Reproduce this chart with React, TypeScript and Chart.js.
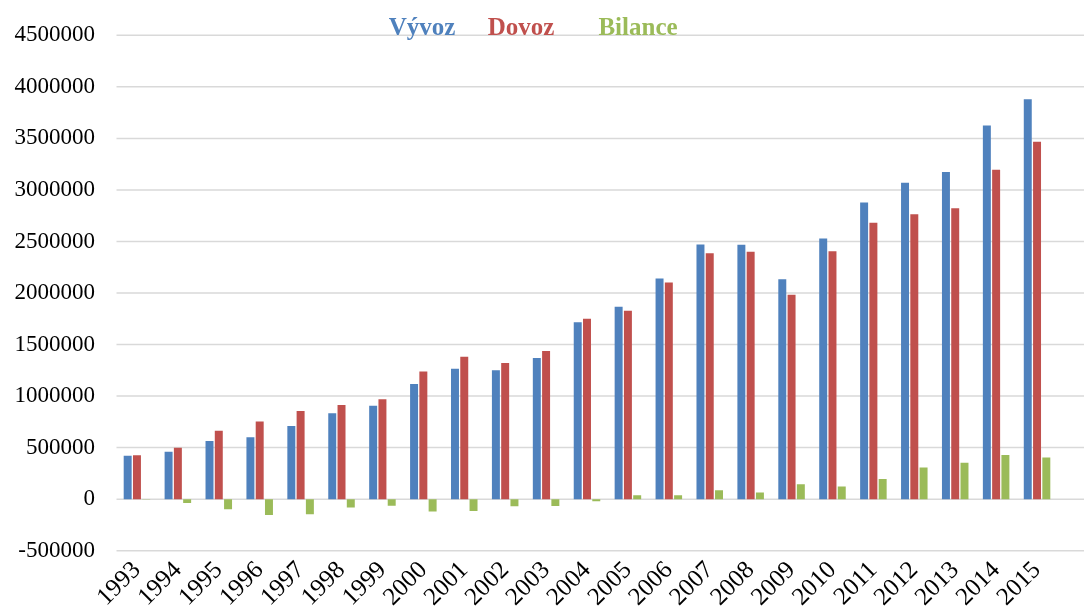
import React, { useEffect, useRef } from 'react';
import { Chart, registerables } from 'chart.js';
Chart.register(...registerables);

const years = ['1993','1994','1995','1996','1997','1998','1999','2000','2001','2002','2003','2004','2005','2006','2007','2008','2009','2010','2011','2012','2013','2014','2015'];
const vyvoz = [421000, 460000, 565000, 600000, 709000, 833000, 906000, 1117000, 1265000, 1251000, 1370000, 1717000, 1866000, 2140000, 2471000, 2468000, 2133000, 2529000, 2879000, 3070000, 3173000, 3626000, 3880000];
const dovoz = [425000, 498000, 664000, 753000, 855000, 913000, 970000, 1239000, 1382000, 1322000, 1437000, 1749000, 1829000, 2101000, 2385000, 2401000, 1983000, 2405000, 2682000, 2764000, 2821000, 3195000, 3468000];
const bilance = [-4000, -38000, -99000, -153000, -146000, -80000, -64000, -119000, -116000, -68000, -66000, -20000, 38000, 39000, 86000, 65000, 145000, 124000, 196000, 308000, 353000, 428000, 405000];
const seriesNames = ['Vývoz', 'Dovoz', 'Bilance'];
const seriesColors = ['#4F81BD', '#C0504D', '#9BBB59'];
const yMin = -500000;
const yMax = 4500000;
const yStep = 500000;

const FONT = "'Liberation Serif', 'Times New Roman', serif";

const gridPlugin = {
  id: 'extGrid',
  beforeDatasetsDraw(chart: any) {
    const { ctx, chartArea, scales } = chart;
    const y = scales.y;
    ctx.save();
    ctx.strokeStyle = '#d9d9d9';
    ctx.lineWidth = 1.5;
    y.ticks.forEach((t: any) => {
      const py = y.getPixelForValue(t.value);
      ctx.beginPath();
      ctx.moveTo(chartArea.left, py);
      ctx.lineTo(chart.width, py);
      ctx.stroke();
    });
    ctx.restore();
  },
};

const legendPlugin = {
  id: 'textLegend',
  afterDraw(chart: any) {
    const { ctx } = chart;
    const xs = [422, 521, 638];
    ctx.save();
    ctx.font = `bold 25px ${FONT}`;
    ctx.textAlign = 'center';
    ctx.textBaseline = 'alphabetic';
    chart.data.datasets.forEach((ds: any, i: number) => {
      ctx.fillStyle = ds.backgroundColor;
      ctx.fillText(ds.label, xs[i], 35);
    });
    ctx.restore();
  },
};

export default function App() {
  const ref = useRef<HTMLCanvasElement>(null);
  useEffect(() => {
    if (!ref.current) return;
    const chart = new Chart(ref.current, {
      type: 'bar',
      data: {
        labels: years,
        datasets: [vyvoz, dovoz, bilance].map((d, i) => ({
          label: seriesNames[i],
          data: d,
          backgroundColor: seriesColors[i],
          borderWidth: 0,
          categoryPercentage: 0.68,
          barPercentage: 0.86,
        })),
      },
      options: {
        animation: false,
        responsive: false,
        maintainAspectRatio: false,
        layout: { padding: { top: 28.5, right: 26.5, left: 0, bottom: 0 } },
        plugins: { legend: { display: false }, tooltip: { enabled: false } },
        scales: {
          x: {
            grid: { display: false, drawTicks: false },
            border: { display: false },
            ticks: {
              autoSkip: false,
              minRotation: 45,
              maxRotation: 45,
              padding: 5,
              color: '#000',
              font: { family: FONT, size: 25 },
            },
            afterFit: (s: any) => { s.height = 59.3; s.paddingLeft = 0; s.paddingRight = 0; },
          },
          y: {
            min: yMin,
            max: yMax,
            grid: { display: false, drawTicks: false },
            border: { display: false },
            ticks: {
              stepSize: yStep,
              padding: 21.5,
              color: '#000',
              font: { family: FONT, size: 23 },
              callback: (v: any) => String(v),
            },
            afterFit: (s: any) => { s.width = 116.5; },
          },
        },
      },
      plugins: [gridPlugin, legendPlugin],
    });
    return () => chart.destroy();
  }, []);
  return (
    <div style={{ position: 'fixed', left: 0, top: 0, width: 1084, height: 610, background: '#fff' }}>
      <canvas ref={ref} width={1084} height={610} style={{ width: 1084, height: 610 }} />
    </div>
  );
}
